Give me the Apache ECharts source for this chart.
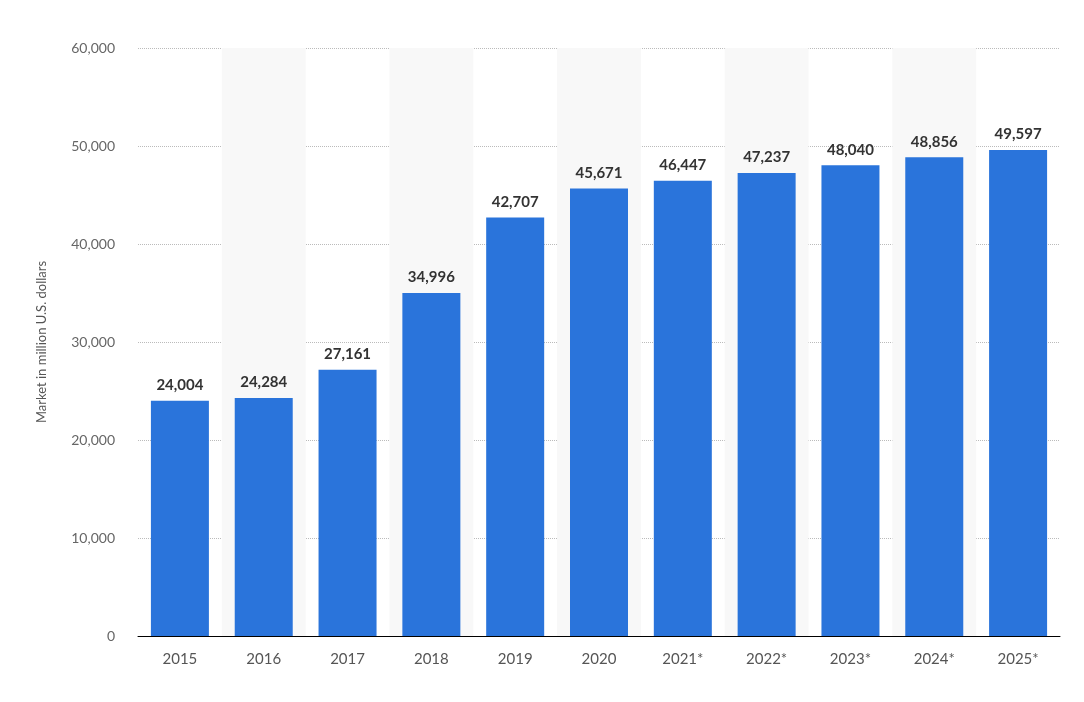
<!DOCTYPE html>
<html><head><meta charset="utf-8">
<script src="https://cdn.jsdelivr.net/npm/echarts@6/dist/echarts.min.js"></script>
<style>html,body{margin:0;padding:0;background:#fff}#c{width:1084px;height:702px}</style>
</head><body><div id="c"></div>
<script>
const categories = ['2015','2016','2017','2018','2019','2020','2021*','2022*','2023*','2024*','2025*'];
const values = [24004,24284,27161,34996,42707,45671,46447,47237,48040,48856,49597];
const yTicks = [0,10000,20000,30000,40000,50000,60000];
const chart = echarts.init(document.getElementById('c'));
chart.setOption({
  animation:false,
  grid:{left:138,right:24,top:48,bottom:66},
  xAxis:{type:'category',data:categories,
    axisLine:{lineStyle:{color:'#000',width:1}},axisTick:{show:false},
    axisLabel:{color:'#555',fontSize:15,margin:16,fontFamily:'Lato, sans-serif'},
    splitArea:{show:true,areaStyle:{color:['rgba(0,0,0,0)','#f8f8f8']}}},
  yAxis:{type:'value',min:yTicks[0],max:yTicks[yTicks.length-1],interval:10000,
    name:'Market in million U.S. dollars',nameLocation:'middle',nameGap:90,
    nameTextStyle:{color:'#555',fontSize:13,fontFamily:'Lato, sans-serif'},
    axisLine:{show:false},axisTick:{show:false},
    axisLabel:{color:'#666',fontSize:14,margin:23,fontFamily:'Lato, sans-serif',
      formatter:v=>v.toLocaleString('en-US')},
    splitLine:{lineStyle:{color:'#bbb',type:'dotted'}}},
  series:[{type:'bar',data:values,barWidth:58,itemStyle:{color:'#2a74db'},
    label:{show:true,position:'top',distance:8,color:'#333',fontWeight:'bold',fontSize:15,
      fontFamily:'Lato, sans-serif',formatter:p=>p.value.toLocaleString('en-US')}}]
});
</script></body></html>
